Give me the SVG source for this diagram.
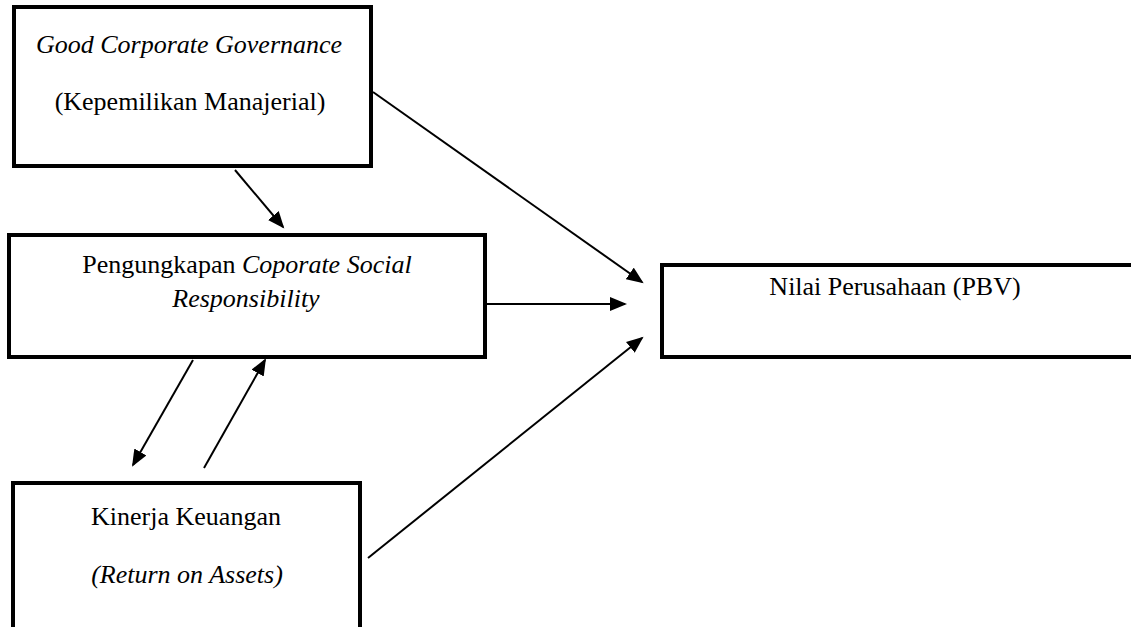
<svg xmlns="http://www.w3.org/2000/svg" width="1131" height="627" viewBox="0 0 1131 627">
<style>
.box{fill:#fff;stroke:#000;stroke-width:4}
text{font-family:'Liberation Serif','Times New Roman',Times,'DejaVu Serif',serif;font-size:26px;fill:#000;text-anchor:middle}
.i{font-style:italic}
.c{stroke:#000;stroke-width:2;fill:none;marker-end:url(#ah)}
</style>
<defs>
<marker id="ah" markerUnits="userSpaceOnUse" markerWidth="18" markerHeight="14" refX="15" refY="7" orient="auto">
<path d="M0,0 L17,7 L0,14 z" fill="#000"/>
</marker>
</defs>
<rect width="1131" height="627" fill="#fff"/>
<g id="gcg">
<rect class="box" x="14" y="7" width="357" height="159"/>
<text class="i" x="189" y="53" font-family="Liberation Serif, serif">Good Corporate Governance</text>
<text x="190" y="110" font-family="Liberation Serif, serif">(Kepemilikan Manajerial)</text>
</g>
<g id="csr">
<rect class="box" x="9" y="235" width="476" height="122"/>
<text x="247" y="273" font-family="Liberation Serif, serif">Pengungkapan <tspan class="i">Coporate Social</tspan></text>
<text class="i" x="246" y="307" font-family="Liberation Serif, serif">Responsibility</text>
</g>
<g id="kk">
<rect class="box" x="13" y="483" width="347" height="200"/>
<text x="186" y="525" font-family="Liberation Serif, serif">Kinerja Keuangan</text>
<text class="i" x="187" y="583" font-family="Liberation Serif, serif">(Return on Assets)</text>
</g>
<g id="pbv">
<rect class="box" x="662" y="265" width="500" height="92"/>
<text x="895" y="295" font-family="Liberation Serif, serif">Nilai Perusahaan (PBV)</text>
</g>
<g id="connectors">
<line class="c" x1="235" y1="170" x2="283" y2="227"/>
<line class="c" x1="373" y1="92" x2="642" y2="282"/>
<line class="c" x1="487" y1="304" x2="625" y2="304"/>
<line class="c" x1="193" y1="360" x2="133" y2="465"/>
<line class="c" x1="204" y1="468" x2="265" y2="360"/>
<line class="c" x1="368" y1="558" x2="642" y2="338"/>
</g>
</svg>
